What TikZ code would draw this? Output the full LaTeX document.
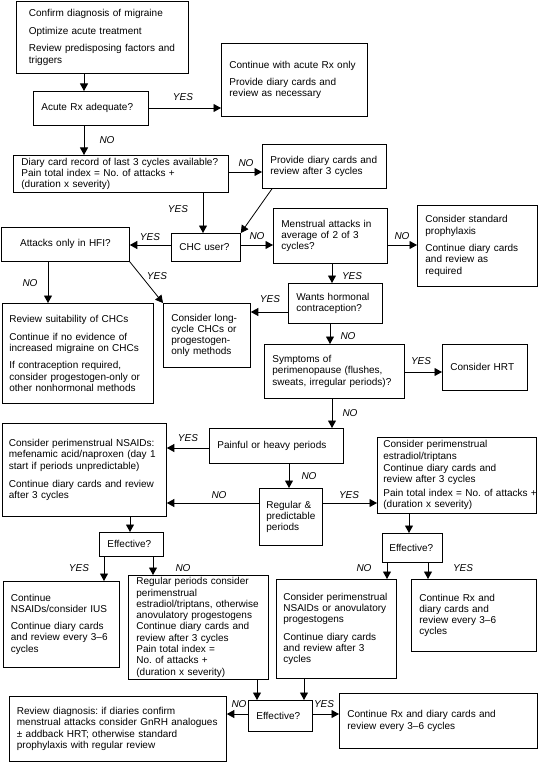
\documentclass[tikz,border=0pt]{standalone}
\usepackage{fontspec}
\setmainfont{Liberation Sans}
\usepackage{tikz}
\usetikzlibrary{arrows.meta}
\frenchspacing

\begin{document}
\begin{tikzpicture}[x=1pt,y=-1pt,
  >={Triangle[length=7.5pt,width=8pt]},line width=0.8pt,
  box/.style={draw,rectangle,anchor=north west,align=left,inner xsep=8pt,inner ysep=2pt,font=\fontsize{10}{11.3}\selectfont\frenchspacing},
  lab/.style={font=\fontsize{10}{12}\selectfont\itshape,inner sep=1pt}]
  \useasboundingbox (0,0) rectangle (538,762);

  % top part
  \node [box,inner xsep=12.5pt,text width=147pt,minimum height=72pt] (confirm) at (16,1)
    {Confirm diagnosis of migraine\\[6.3pt]Optimize acute treatment\\[6.3pt]Review predisposing factors and\\triggers};
  \node [box,text width=99pt,minimum height=34pt] (adequate) at (33,91) {Acute Rx adequate?};
  \node [box,text width=130pt,minimum height=73pt] (acuteonly) at (221,43)
    {Continue with acute Rx only\\[6.3pt]Provide diary cards and\\review as necessary\\[8pt]};
  \node [box,text width=199pt,minimum height=37pt] (diary) at (13,155)
    {Diary card record of last 3 cycles available?\\Pain total index = No.\ of attacks +\\(duration x severity)};
  \node [box,text width=108pt,minimum height=44pt] (provide) at (262,144)
    {Provide diary cards and\\review after 3 cycles};
  \node [box,text width=53pt,minimum height=28pt] (chc) at (171,233) {CHC user?};
  \node [box,align=center,text width=112pt,minimum height=34pt] (hfi) at (1,227) {Attacks only in HFI?};
  \node [box,text width=98pt,minimum height=55pt] (menstrual) at (273,208)
    {Menstrual attacks in\\average of 2 of 3\\cycles?};
  \node [box,text width=104pt,minimum height=81pt] (standard) at (417,205)
    {Consider standard\\prophylaxis\\[6.3pt]Continue diary cards\\and review as\\required};
  \node [box,text width=78pt,minimum height=40pt] (wants) at (288,283)
    {Wants hormonal\\contraception?};
  \node [box,text width=71pt,minimum height=64pt] (longcycle) at (163,303)
    {Consider long-\\cycle CHCs or\\progestogen-\\only methods};
  \node [box,inner xsep=7pt,text width=137pt,minimum height=100pt] (suitability) at (2,303)
    {Review suitability of CHCs\\[6.3pt]Continue if no evidence of\\increased migraine on CHCs\\[6.3pt]If contraception required,\\consider progestogen-only or\\other nonhormonal methods};
  \node [box,text width=124pt,minimum height=54pt] (perimeno) at (264,344)
    {Symptoms of\\perimenopause (flushes,\\sweats, irregular periods)?};
  \node [box,text width=69pt,minimum height=46pt] (hrt) at (442,344) {Consider HRT\\[10pt]};

  % middle part
  \node [box,text width=118pt,minimum height=35pt] (painful) at (209,428) {Painful or heavy periods};
  \node [box,inner xsep=6.5pt,text width=151pt,minimum height=93pt] (nsaids) at (2,423)
    {Consider perimenstrual NSAIDs:\\mefenamic acid/naproxen (day 1\\start if periods unpredictable)\\[6.8pt]Continue diary cards and review\\after 3 cycles\\[10pt]};
  \node [box,inner xsep=7pt,text width=49pt,minimum height=57pt] (regular) at (259,488)
    {Regular \&\\predictable\\periods};
  \node [box,inner xsep=6pt,text width=147pt,minimum height=76pt] (estradiol) at (377,437)
    {Consider perimenstrual\\estradiol/triptans\\[1pt]Continue diary cards and\\review after 3 cycles\\[2.5pt]\mbox{Pain total index = No.\ of attacks +}\\(duration x severity)};
  \node [box,text width=48pt,minimum height=24pt] (eff1) at (99,532) {Effective?};
  \node [box,inner xsep=7pt,text width=46pt,minimum height=29pt] (eff2) at (382,533) {Effective?};

  % bottom part
  \node [box,inner xsep=7.5pt,text width=101pt,minimum height=86pt] (contnsaid) at (3,581)
    {Continue\\NSAIDs/consider IUS\\[5.4pt]Continue diary cards\\and review every 3--6\\cycles};
  \node [box,inner ysep=1pt,text width=124pt,minimum height=104pt] (regperiods) at (128,575)
    {Regular periods consider\\perimenstrual\\estradiol/triptans, otherwise\\anovulatory progestogens\\Continue diary cards and\\review after 3 cycles\\Pain total index =\\No.\ of attacks +\\(duration x severity)};
  \node [box,inner xsep=7pt,text width=106pt,minimum height=99pt] (perinsaids) at (276,579)
    {Consider perimenstrual\\NSAIDs or anovulatory\\progestogens\\[6.3pt]Continue diary cards\\and review after 3\\cycles};
  \node [box,text width=109pt,minimum height=72pt] (contrx) at (411,579)
    {Continue Rx and\\diary cards and\\review every 3--6\\cycles};
  \node [box,text width=48pt,minimum height=31pt] (eff3) at (248,700) {Effective?};
  \node [box,inner xsep=7.5pt,text width=202pt,minimum height=65pt] (reviewdx) at (9,696)
    {Review diagnosis: if diaries confirm\\menstrual attacks consider GnRH analogues\\± addback HRT; otherwise standard\\prophylaxis with regular review};
  \node [box,text width=182pt,minimum height=55pt] (contrx2) at (339,693)
    {Continue Rx and diary cards and\\review every 3--6 cycles\\[10pt]};

  % connectors
  \draw[->] (confirm.south -| 84,0) -- (adequate.north -| 84,0);
  \draw[->] (adequate.east |- 0,108) -- (acuteonly.west |- 0,108);
  \draw[->] (adequate.south -| 84,0) -- (diary.north -| 84,0);
  \draw[->] (diary.east |- 0,172) -- (provide.west |- 0,172);
  \draw[->] (diary.south -| 203,0) -- (chc.north -| 203,0);
  \draw[->] (provide.south -| 272,0) -- (chc.north east);
  \draw[->] (chc.west |- 0,245) -- (hfi.east |- 0,245);
  \draw[->] (chc.east |- 0,245) -- (menstrual.west |- 0,245);
  \draw[->] (menstrual.east |- 0,245) -- (standard.west |- 0,245);
  \draw[->] (menstrual.south -| 332,0) -- (wants.north -| 332,0);
  \draw[->] (hfi.south -| 48,0) -- (suitability.north -| 48,0);
  \draw[->] (hfi.south east) -- (longcycle.north west);
  \draw[->] (wants.west |- 0,312) -- (longcycle.east |- 0,312);
  \draw[->] (wants.south -| 330,0) -- (perimeno.north -| 330,0);
  \draw[->] (perimeno.east |- 0,372) -- (hrt.west |- 0,372);
  \draw[->] (perimeno.south -| 332,0) -- (painful.north -| 332,0);
  \draw[->] (painful.west |- 0,448) -- (nsaids.east |- 0,448);
  \draw[->] (painful.south -| 289,0) -- (regular.north -| 289,0);
  \draw[->] (regular.west |- 0,503) -- (nsaids.east |- 0,503);
  \draw[->] (regular.east |- 0,503) -- (estradiol.west |- 0,503);
  \draw[->] (nsaids.south -| 130,0) -- (eff1.north -| 130,0);
  \draw[->] (eff1.south -| 104,0) -- (contnsaid.north -| 104,0);
  \draw[->] (eff1.south -| 153,0) -- (regperiods.north -| 153,0);
  \draw[->] (estradiol.south -| 409,0) -- (eff2.north -| 409,0);
  \draw[->] (eff2.south -| 387,0) -- (perinsaids.north -| 387,0);
  \draw[->] (eff2.south -| 428,0) -- (contrx.north -| 428,0);
  \draw[->] (regperiods.south -| 257,0) -- (eff3.north -| 257,0);
  \draw[->] (perinsaids.south -| 304,0) -- (eff3.north -| 304,0);
  \draw[->] (eff3.west |- 0,714) -- (reviewdx.east |- 0,714);
  \draw[->] (eff3.east |- 0,714) -- (contrx2.west |- 0,714);

  % yes / no labels
  \node [lab] (yacute) at (183,97) {YES};
  \node [lab] (nacute) at (107,140) {NO};
  \node [lab] (ndiary) at (246,163) {NO};
  \node [lab] (ydiary) at (178,209) {YES};
  \node [lab] (ychc) at (150,237) {YES};
  \node [lab] (nchc) at (257,236) {NO};
  \node [lab] (nmens) at (402,236) {NO};
  \node [lab] (ymens) at (352,276) {YES};
  \node [lab] (ywants) at (270,299) {YES};
  \node [lab] (nhfi) at (30,283) {NO};
  \node [lab] (yhfi) at (157,276) {YES};
  \node [lab] (nwants) at (348,336) {NO};
  \node [lab] (yperi) at (421,361) {YES};
  \node [lab] (nperi) at (350,413) {NO};
  \node [lab] (ypain) at (188,438) {YES};
  \node [lab] (npain) at (309,476) {NO};
  \node [lab] (nreg) at (219,495) {NO};
  \node [lab] (yreg) at (349,495) {YES};
  \node [lab] (yeff1) at (79,568) {YES};
  \node [lab] (neff1) at (183,568) {NO};
  \node [lab] (neff2) at (364,568) {NO};
  \node [lab] (yeff2) at (463,568) {YES};
  \node [lab] (neff3) at (239,704) {NO};
  \node [lab] (yeff3) at (324,704) {YES};
\end{tikzpicture}
\end{document}
